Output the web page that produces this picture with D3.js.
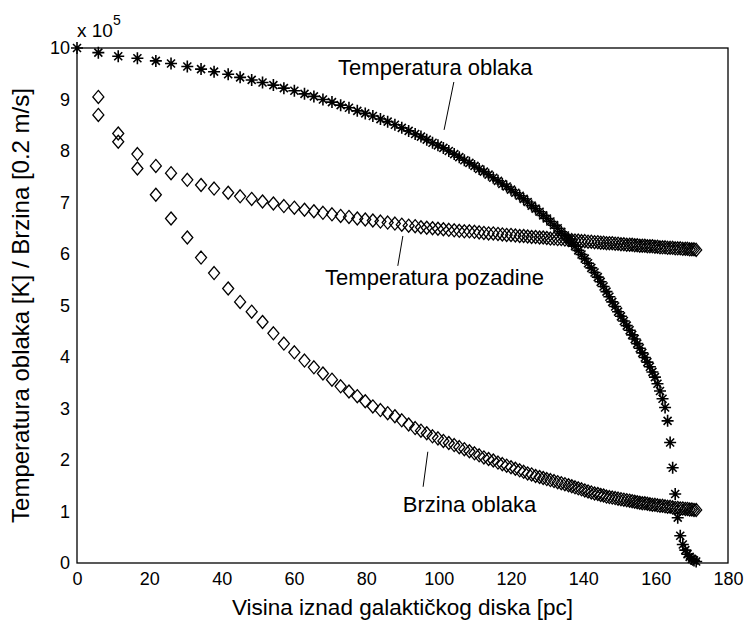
<!DOCTYPE html>
<html>
<head>
<meta charset="utf-8">
<script src="https://cdn.jsdelivr.net/npm/d3@7"></script>
<style>
  body { margin: 0; background: #fff; }
  svg { display: block; font-family: "Liberation Sans", Arial, sans-serif; }
</style>
</head>
<body>
<svg id="chart" width="747" height="624"></svg>
<script>
// height above the galactic disk [pc]
const heights = [
  0, 5.9, 11.4, 16.7, 21.8, 26.0, 30.5, 34.3, 37.9, 41.8,
  45.1, 48.3, 51.3, 54.3, 57.2, 60.1, 62.9, 65.5, 68.0, 70.5,
  72.9, 75.2, 77.5, 79.7, 81.8, 83.9, 85.9, 87.9, 89.8, 91.7,
  93.5, 95.1, 96.7, 98.3, 99.8, 101.3, 102.8, 104.3, 105.7, 107.1,
  108.5, 109.9, 111.2, 112.5, 113.8, 115.1, 116.4, 117.6, 118.8, 120.0,
  121.2, 122.4, 123.5, 124.6, 125.7, 126.8, 127.9, 128.9, 129.9, 130.9,
  131.9, 132.9, 133.9, 134.9, 135.9, 136.8, 137.7, 138.6, 139.5, 140.4,
  141.3, 142.2, 143.1, 144.0, 144.8, 145.6, 146.4, 147.2, 148.0, 148.8,
  149.6, 150.4, 151.2, 152.0, 152.8, 153.5, 154.2, 154.9, 155.6, 156.3,
  157.0, 157.7, 158.4, 159.1, 159.8, 160.5, 161.2, 161.9, 162.6, 163.3,
  164.0, 164.7, 165.4, 166.1, 166.8, 167.5, 168.2, 168.8, 169.4, 170.0,
  170.6, 171.2
];

// cloud temperature, x 10^5 K
const cloudTemp = [
  10.0, 9.91, 9.84, 9.80, 9.75, 9.70, 9.64, 9.59, 9.54, 9.49,
  9.43, 9.38, 9.33, 9.28, 9.22, 9.17, 9.11, 9.06, 9.00, 8.95,
  8.89, 8.84, 8.78, 8.73, 8.68, 8.62, 8.57, 8.51, 8.45, 8.39,
  8.33, 8.28, 8.22, 8.16, 8.11, 8.06, 8.00, 7.94, 7.88, 7.82,
  7.77, 7.71, 7.65, 7.60, 7.54, 7.48, 7.42, 7.36, 7.31, 7.25,
  7.19, 7.13, 7.07, 7.01, 6.94, 6.88, 6.82, 6.75, 6.69, 6.63,
  6.56, 6.50, 6.43, 6.36, 6.29, 6.22, 6.15, 6.07, 5.99, 5.91,
  5.82, 5.73, 5.64, 5.55, 5.46, 5.37, 5.27, 5.17, 5.07, 4.98,
  4.88, 4.79, 4.70, 4.61, 4.52, 4.43, 4.35, 4.26, 4.17, 4.08,
  3.99, 3.90, 3.81, 3.71, 3.61, 3.48, 3.34, 3.19, 3.02, 2.76,
  2.34, 1.85, 1.34, 0.88, 0.53, 0.36, 0.25, 0.17, 0.12, 0.08,
  0.05, 0.03
];

// background temperature, x 10^5 K
const backgroundTemp = [
  null, 9.05, 8.34, 7.94, 7.71, 7.57, 7.44, 7.34, 7.27, 7.19,
  7.12, 7.07, 7.02, 6.98, 6.93, 6.90, 6.86, 6.83, 6.80, 6.77,
  6.74, 6.72, 6.69, 6.67, 6.65, 6.63, 6.61, 6.59, 6.57, 6.55,
  6.54, 6.52, 6.51, 6.50, 6.49, 6.48, 6.47, 6.46, 6.45, 6.44,
  6.44, 6.43, 6.42, 6.41, 6.40, 6.40, 6.39, 6.38, 6.37, 6.37,
  6.36, 6.35, 6.35, 6.34, 6.33, 6.33, 6.32, 6.32, 6.31, 6.30,
  6.30, 6.29, 6.29, 6.28, 6.27, 6.27, 6.26, 6.26, 6.25, 6.25,
  6.24, 6.24, 6.23, 6.23, 6.22, 6.22, 6.21, 6.21, 6.21, 6.20,
  6.20, 6.19, 6.19, 6.18, 6.18, 6.18, 6.17, 6.17, 6.16, 6.16,
  6.16, 6.15, 6.15, 6.15, 6.14, 6.14, 6.13, 6.13, 6.13, 6.12,
  6.12, 6.12, 6.11, 6.11, 6.11, 6.10, 6.10, 6.10, 6.09, 6.09,
  6.09, 6.08
];

// cloud velocity, x 10^5 * 0.2 m/s
const cloudSpeed = [
  null, 8.70, 8.18, 7.66, 7.15, 6.69, 6.32, 5.93, 5.63, 5.33,
  5.07, 4.88, 4.68, 4.46, 4.26, 4.09, 3.93, 3.80, 3.68, 3.56,
  3.43, 3.33, 3.24, 3.14, 3.04, 2.97, 2.91, 2.85, 2.77, 2.69,
  2.62, 2.57, 2.52, 2.46, 2.42, 2.37, 2.33, 2.29, 2.25, 2.21,
  2.17, 2.13, 2.09, 2.05, 2.02, 1.99, 1.95, 1.92, 1.89, 1.86,
  1.83, 1.80, 1.77, 1.74, 1.72, 1.69, 1.67, 1.65, 1.63, 1.61,
  1.59, 1.57, 1.55, 1.53, 1.51, 1.49, 1.47, 1.45, 1.43, 1.41,
  1.39, 1.37, 1.35, 1.34, 1.32, 1.31, 1.29, 1.28, 1.27, 1.26,
  1.25, 1.24, 1.23, 1.22, 1.21, 1.20, 1.19, 1.18, 1.17, 1.16,
  1.16, 1.15, 1.14, 1.13, 1.13, 1.12, 1.11, 1.11, 1.10, 1.09,
  1.09, 1.08, 1.07, 1.07, 1.06, 1.06, 1.05, 1.05, 1.04, 1.04,
  1.03, 1.03
];

const xTicks = [0, 20, 40, 60, 80, 100, 120, 140, 160, 180];
const yTicks = [0, 1, 2, 3, 4, 5, 6, 7, 8, 9, 10];

// labels placed in data units: text anchor + leader line
const notes = [
  { text: 'Temperatura oblaka', tx: 72.2, ty: 9.48, x1: 104.2, y1: 9.34, x2: 101.5, y2: 8.41 },
  { text: 'Temperatura pozadine', tx: 68.6, ty: 5.40, x1: 90.1, y1: 6.35, x2: 88.7, y2: 5.77 },
  { text: 'Brzina oblaka', tx: 90.1, ty: 0.99, x1: 97.0, y1: 2.16, x2: 95.7, y2: 1.48 }
];

const svg = d3.select('#chart');
const margin = { top: 48, right: 19, bottom: 61, left: 77 };
const W = 747, H = 624;

const x = d3.scaleLinear().domain([0, 180]).range([margin.left, W - margin.right]);
const y = d3.scaleLinear().domain([0, 10]).range([H - margin.bottom, margin.top]);

// axes
const xAxis = svg.append('g')
  .attr('transform', `translate(0,${y(0)})`)
  .call(d3.axisBottom(x).tickValues(xTicks).tickSize(0).tickPadding(9));
const yAxis = svg.append('g')
  .attr('transform', `translate(${x(0)},0)`)
  .call(d3.axisLeft(y).tickValues(yTicks).tickSize(0).tickPadding(7));
[xAxis, yAxis].forEach(a => {
  a.select('.domain').remove();
  a.selectAll('text').attr('font-size', 18).attr('fill', '#000').attr('font-family', null);
});

svg.append('rect')
  .attr('x', x(0)).attr('y', y(10))
  .attr('width', x(180) - x(0)).attr('height', y(0) - y(10))
  .attr('fill', 'none').attr('stroke', '#000').attr('stroke-width', 1.3);

// exponent
const expo = svg.append('text').attr('x', x(0)).attr('y', y(10) - 11).attr('font-size', 19);
expo.append('tspan').text('x 10');
expo.append('tspan').attr('font-size', 14).attr('dy', -12).text('5');

// axis titles
svg.append('text')
  .attr('x', (x(0) + x(180)) / 2).attr('y', H - 9)
  .attr('text-anchor', 'middle').attr('font-size', 22.5)
  .text('Visina iznad galaktičkog diska [pc]');
svg.append('text')
  .attr('transform', `translate(29,${(y(0) + y(10)) / 2}) rotate(-90)`)
  .attr('text-anchor', 'middle').attr('font-size', 24)
  .text('Temperatura oblaka [K] / Brzina [0.2 m/s]');

// markers
const diamond = 'M0,-6.5L5.5,0L0,6.5L-5.5,0Z';
const star = 'M-6,0H6M0,-6V6M-4,-4L4,4M-4,4L4,-4';

function drawSeries(values, shape, sw) {
  const pts = heights.map((h, i) => ({ h, v: values[i] })).filter(d => d.v != null);
  svg.append('g').selectAll('path')
    .data(pts)
    .enter()
    .append('path')
    .attr('transform', d => `translate(${x(d.h)},${y(d.v)})`)
    .attr('d', shape)
    .attr('fill', 'none')
    .attr('stroke', '#000')
    .attr('stroke-width', sw);
}

drawSeries(backgroundTemp, diamond, 1.3);
drawSeries(cloudSpeed, diamond, 1.3);
drawSeries(cloudTemp, star, 1.6);

// annotations
const ann = svg.append('g');
notes.forEach(n => {
  ann.append('text').attr('x', x(n.tx)).attr('y', y(n.ty)).attr('font-size', 22).text(n.text);
  ann.append('line')
    .attr('x1', x(n.x1)).attr('y1', y(n.y1))
    .attr('x2', x(n.x2)).attr('y2', y(n.y2))
    .attr('stroke', '#000').attr('stroke-width', 1);
});
</script>
</body>
</html>
